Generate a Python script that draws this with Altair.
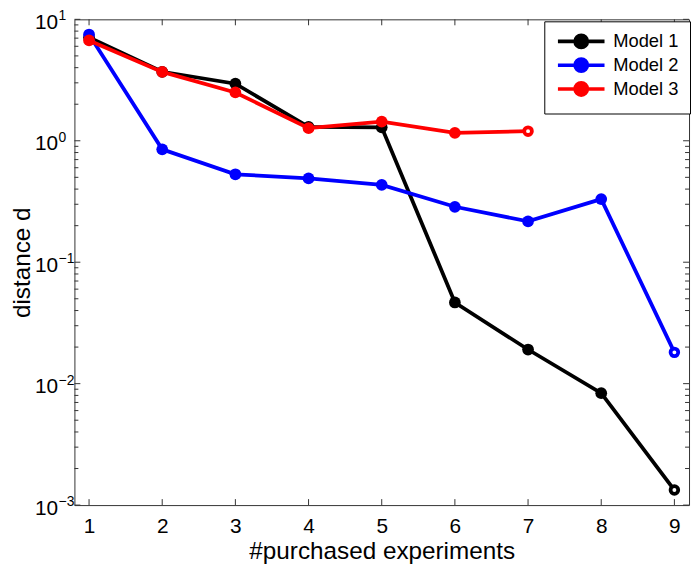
import altair as alt
import pandas as pd

# ---- data ----
experiments = [1, 2, 3, 4, 5, 6, 7, 8, 9]
model_names = ["Model 1", "Model 2", "Model 3"]
model1 = [7.1, 3.7, 2.95, 1.30, 1.29, 0.0466, 0.0191, 0.00835, 0.00133]
model2 = [7.5, 0.85, 0.53, 0.49, 0.433, 0.286, 0.217, 0.331, 0.0181]
model3 = [6.7, 3.69, 2.50, 1.27, 1.44, 1.16, 1.20]
colors = ["#000000", "#0000ff", "#ff0000"]

x_ticks = [1, 2, 3, 4, 5, 6, 7, 8, 9]
y_major = [0.001, 0.01, 0.1, 1, 10]
y_exponents = ["\u22123", "\u22122", "\u22121", "0", "1"]
y_minor = [k * 10.0 ** e for e in range(-3, 1) for k in range(2, 10)]

rows = []
for name, vals in zip(model_names, [model1, model2, model3]):
    for i, v in enumerate(vals):
        rows.append({"x": experiments[i], "d": v, "model": name,
                     "last": i == len(vals) - 1})
df = pd.DataFrame(rows)

W, H = 620, 490
FONT = "Liberation Sans"

xs = alt.Scale(domain=[0.8, 9.2], nice=False, zero=False)
ys = alt.Scale(type="log", domain=[0.001, 10], nice=False)
cs = alt.Scale(domain=model_names, range=colors)

x_axis = alt.Axis(values=x_ticks, title="#purchased experiments", ticks=False,
                  domain=False, grid=False, labelFontSize=21, labelPadding=11,
                  titleFontSize=24.5, titleFontWeight="normal", titlePadding=3,
                  labelFont=FONT, titleFont=FONT, labelColor="black",
                  titleColor="black", format="d")
y_axis = alt.Axis(values=y_major, title="distance d", ticks=False, domain=False,
                  grid=False, labelExpr="'10'", labelFontSize=21, labelPadding=17,
                  labelOffset=3,
                  titleFontSize=24.5, titleFontWeight="normal", labelFont=FONT,
                  titleFont=FONT, labelColor="black", titleColor="black",
                  titleAngle=270, titleX=-52, titleY=H / 2, titleBaseline="middle",
                  titleAlign="center", labelFlush=False)

# legend symbol: a short line with a dot in its middle
unit = 13                      # sqrt(symbolSize) in px
half_len = 23.5 / (unit / 2)   # half line length in path units
dot = 6.2 / (unit / 2)         # dot radius in path units
sym_path = (f"M-{half_len:.3f},0L{half_len:.3f},0"
            f"M-{dot:.3f},0A{dot:.3f},{dot:.3f},0,1,0,{dot:.3f},0"
            f"A{dot:.3f},{dot:.3f},0,1,0,-{dot:.3f},0Z")
legend = alt.Legend(title=None, orient="none", legendX=474, legendY=2,
                    symbolType=sym_path, symbolSize=unit * unit,
                    symbolStrokeWidth=3.6, symbolOpacity=1,
                    symbolOffset=17, labelOffset=23,
                    labelFontSize=18.5, labelFont=FONT, labelColor="black",
                    padding=11, rowPadding=-4,
                    strokeColor="black", fillColor="white")

X = alt.X("x:Q", scale=xs, axis=x_axis)
Y = alt.Y("d:Q", scale=ys, axis=y_axis)
C = alt.Color("model:N", scale=cs, legend=legend)

layers = []
for name in model_names:
    sub = df[df["model"] == name]
    layers.append(alt.Chart(sub).mark_line(strokeWidth=3.8).encode(x=X, y=Y, color=C))
    layers.append(alt.Chart(sub[~sub["last"]]).mark_point(
        filled=True, size=140, opacity=1).encode(x=X, y=Y, color=C))
    layers.append(alt.Chart(sub[sub["last"]]).mark_point(
        filled=False, fill="white", size=60, strokeWidth=3.8, opacity=1
    ).encode(x=X, y=Y, color=C))

tick_color = "#333333"
xt = pd.DataFrame({"x": x_ticks})
XT = alt.X("x:Q", scale=xs, axis=x_axis)
layers.append(alt.Chart(xt).mark_rule(color=tick_color, strokeWidth=1).encode(
    x=XT, y=alt.value(H), y2=alt.value(H - 6)))
layers.append(alt.Chart(xt).mark_rule(color=tick_color, strokeWidth=1).encode(
    x=XT, y=alt.value(0), y2=alt.value(6)))

ymaj = pd.DataFrame({"d": y_major, "e": y_exponents})
ymin = pd.DataFrame({"d": y_minor})
for df_t, ln in [(ymaj, 6), (ymin, 4)]:
    layers.append(alt.Chart(df_t).mark_rule(color=tick_color, strokeWidth=1).encode(
        y=Y, x=alt.value(0), x2=alt.value(ln)))
    layers.append(alt.Chart(df_t).mark_rule(color=tick_color, strokeWidth=1).encode(
        y=Y, x=alt.value(W), x2=alt.value(W - ln)))

layers.append(alt.Chart(ymaj).mark_text(
    align="left", baseline="alphabetic", dy=1, fontSize=14, font=FONT,
    color="black").encode(y=Y, x=alt.value(-16), text="e:N"))

chart = alt.layer(*layers).properties(
    width=W, height=H,
    autosize=alt.AutoSizeParams(type="none"),
    padding={"left": 67, "top": 9, "right": 3, "bottom": 58},
    background="white",
).configure_view(stroke="#333333", strokeWidth=1)

chart.save("out.html", embed_options={"renderer": "svg", "actions": False})
